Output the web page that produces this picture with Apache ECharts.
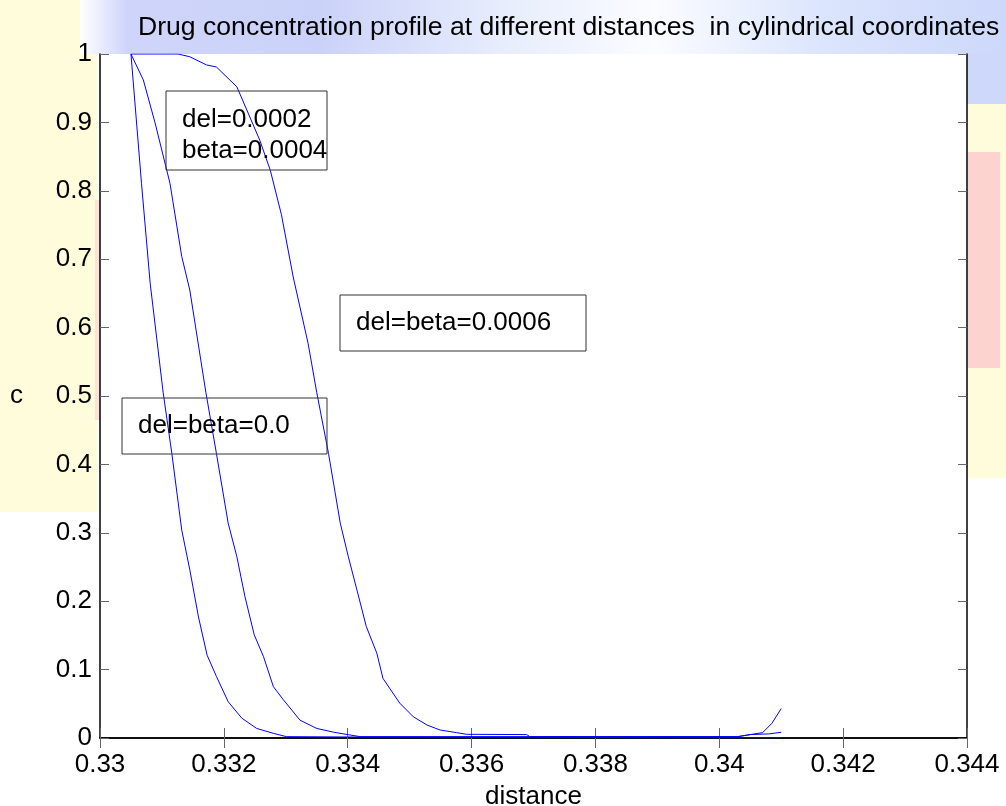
<!DOCTYPE html>
<html>
	<head>
		<meta charset="utf-8">
		<title></title>
		<style type="text/css">
			* {
				margin: 0;
				padding: 0;
			}

			#main {
				width: 1006px;
				height: 806px;
			}
		</style>
		<script src="https://cdn.jsdelivr.net/npm/echarts@6/dist/echarts.min.js"></script>
	</head>
	<body>
		<div id="main"></div>
	</body>
	<script type="text/javascript">
		// 读图得到的数据 (distance, c)
		var xTicks = [0.33, 0.332, 0.334, 0.336, 0.338, 0.34, 0.342, 0.344];
		var yTicks = [0, 0.1, 0.2, 0.3, 0.4, 0.5, 0.6, 0.7, 0.8, 0.9, 1];

		// del=beta=0.0
		var dist1 = [0.3305, 0.33067, 0.33081, 0.33102, 0.33116, 0.33132, 0.33145, 0.33159, 0.33173, 0.33188, 0.33207, 0.33229, 0.33253, 0.3328, 0.33301, 0.334, 0.337, 0.339, 0.341];
		var conc1 = [1, 0.811, 0.665, 0.505, 0.416, 0.304, 0.246, 0.177, 0.121, 0.09, 0.053, 0.029, 0.014, 0.0068, 0.002, 0.0015, 0.001, 0.0005, 0.0005];

		// del=0.0002 beta=0.0004
		var dist2 = [0.3305, 0.3307, 0.33089, 0.33113, 0.33132, 0.33145, 0.33171, 0.33188, 0.33207, 0.33221, 0.33234, 0.33249, 0.33264, 0.3328, 0.33296, 0.33323, 0.3335, 0.33377, 0.33401, 0.3342, 0.337, 0.3403, 0.3405, 0.3408, 0.341];
		var conc2 = [1, 0.962, 0.899, 0.811, 0.704, 0.655, 0.505, 0.416, 0.314, 0.265, 0.207, 0.151, 0.119, 0.075, 0.056, 0.026, 0.014, 0.0085, 0.0048, 0.002, 0.002, 0.002, 0.005, 0.006, 0.0083];

		// del=beta=0.0006
		var dist3 = [0.3305, 0.33126, 0.33145, 0.33172, 0.33188, 0.33221, 0.33258, 0.33275, 0.33293, 0.33312, 0.33336, 0.3335, 0.33369, 0.33388, 0.33401, 0.33415, 0.3343, 0.33447, 0.33457, 0.33484, 0.33506, 0.33528, 0.33549, 0.33576, 0.33592, 0.33689, 0.33694, 0.3403, 0.3405, 0.3407, 0.34085, 0.341];
		var conc3 = [1, 1, 0.996, 0.984, 0.981, 0.952, 0.874, 0.83, 0.765, 0.674, 0.577, 0.505, 0.416, 0.314, 0.265, 0.216, 0.163, 0.124, 0.087, 0.051, 0.031, 0.019, 0.0117, 0.0078, 0.0054, 0.005, 0.002, 0.002, 0.005, 0.0078, 0.0215, 0.043];

		var labels = ['del=beta=0.0', 'del=0.0002\nbeta=0.0004', 'del=beta=0.0006'];

		function pairs(xs, ys) {
			var out = [];
			for (var i = 0; i < xs.length; i++) {
				out.push([xs[i], ys[i]]);
			}
			return out;
		}

		var font = 'Arial, "Liberation Sans", sans-serif';
		var myChart = echarts.init(document.getElementById('main'));

		function lineSeries(name, xs, ys) {
			return {
				name: name,
				type: 'line',
				data: pairs(xs, ys),
				showSymbol: false,
				symbol: 'none',
				animation: false,
				lineStyle: {
					color: '#0000ff',
					width: 1
				}
			};
		}

		// 带边框的注释文字
		function textBox(x, y, w, h, text, dy) {
			return {
				type: 'group',
				children: [{
					type: 'rect',
					shape: { x: x, y: y, width: w, height: h },
					style: { fill: 'none', stroke: '#333', lineWidth: 1 },
					z: 20
				}, {
					type: 'text',
					x: x + 16,
					y: y + h / 2 + (dy || 0),
					style: {
						text: text,
						font: '26px ' + font,
						fill: '#000',
						lineHeight: 31,
						verticalAlign: 'middle'
					},
					z: 20
				}]
			};
		}

		var option = {
			backgroundColor: '#fff',
			animation: false,
			title: {
				text: 'Drug concentration profile at different distances  in cylindrical coordinates',
				left: 138,
				top: 14,
				padding: 0,
				textStyle: {
					fontSize: 26.6,
					fontWeight: 'normal',
					fontFamily: font,
					color: '#000'
				}
			},
			grid: {
				left: 100,
				right: 39,
				top: 54,
				bottom: 68,
				outerBoundsMode: 'none',
				containLabel: false,
				show: true,
				backgroundColor: '#fff',
				borderWidth: 0
			},
			xAxis: [{
				type: 'value',
				min: xTicks[0],
				max: xTicks[xTicks.length - 1],
				interval: 0.002,
				name: 'distance',
				nameLocation: 'middle',
				nameGap: 46,
				nameTextStyle: { fontSize: 26, fontFamily: font, color: '#000' },
				axisLine: { lineStyle: { color: '#000', width: 1.5 } },
				axisTick: { inside: true, length: 10, lineStyle: { color: '#666' } },
				axisLabel: {
					margin: 14,
					fontSize: 26,
					fontFamily: font,
					color: '#000',
					formatter: function(v) { return String(+v.toFixed(3)); }
				},
				splitLine: { show: false }
			}, {
				type: 'value',
				position: 'top',
				min: xTicks[0],
				max: xTicks[xTicks.length - 1],
				interval: 0.002,
				axisLine: { lineStyle: { color: '#000', width: 1.5 } },
				axisTick: { inside: true, length: 10, lineStyle: { color: '#666' } },
				axisLabel: { show: false },
				splitLine: { show: false }
			}],
			yAxis: [{
				type: 'value',
				min: yTicks[0],
				max: yTicks[yTicks.length - 1],
				interval: 0.1,
				name: 'c',
				nameLocation: 'middle',
				nameRotate: 0,
				nameGap: 77,
				nameTextStyle: { fontSize: 26, fontFamily: font, color: '#000' },
				axisLine: { lineStyle: { color: '#000', width: 1.5 } },
				axisTick: { inside: true, length: 9, lineStyle: { color: '#666' } },
				axisLabel: {
					margin: 8,
					fontSize: 26,
					fontFamily: font,
					color: '#000',
					formatter: function(v) { return String(+v.toFixed(1)); }
				},
				splitLine: { show: false }
			}, {
				type: 'value',
				position: 'right',
				min: yTicks[0],
				max: yTicks[yTicks.length - 1],
				interval: 0.1,
				axisLine: { lineStyle: { color: '#000', width: 1.5 } },
				axisTick: { inside: true, length: 9, lineStyle: { color: '#666' } },
				axisLabel: { show: false },
				splitLine: { show: false }
			}],
			graphic: [
				// 背景水印色块
				{
					type: 'rect', z: -100, silent: true,
					shape: { x: 0, y: 0, width: 97, height: 512 },
					style: { fill: '#fffcdc' }
				},
				{
					type: 'rect', z: -100, silent: true,
					shape: { x: 95, y: 200, width: 5, height: 220 },
					style: { fill: '#fde2d8' }
				},
				{
					type: 'rect', z: -99, silent: true,
					shape: { x: 80, y: 0, width: 926, height: 54 },
					style: {
						fill: new echarts.graphic.LinearGradient(0, 0, 1, 0, [
							{ offset: 0, color: '#ffffff' },
							{ offset: 0.05, color: '#cfd5fa' },
							{ offset: 0.26, color: '#cbd2f9' },
							{ offset: 0.45, color: '#e6ecfc' },
							{ offset: 0.62, color: '#fbfcff' },
							{ offset: 0.8, color: '#dbe5fc' },
							{ offset: 1, color: '#cdd8fb' }
						])
					}
				},
				{
					type: 'rect', z: -100, silent: true,
					shape: { x: 967, y: 0, width: 39, height: 104 },
					style: { fill: '#cdd8fb' }
				},
				{
					type: 'rect', z: -100, silent: true,
					shape: { x: 967, y: 104, width: 39, height: 374 },
					style: { fill: '#fffcdc' }
				},
				{
					type: 'rect', z: -99, silent: true,
					shape: { x: 968, y: 152, width: 32, height: 216 },
					style: { fill: '#fdd3cf' }
				},
				textBox(122, 398, 205, 56, labels[0]),
				textBox(166, 91, 161, 79, labels[1], 5),
				textBox(340, 295, 246, 56, labels[2])
			],
			series: [
				lineSeries(labels[0], dist1, conc1),
				lineSeries(labels[1], dist2, conc2),
				lineSeries(labels[2], dist3, conc3)
			]
		};
		myChart.setOption(option);
	</script>
</html>
